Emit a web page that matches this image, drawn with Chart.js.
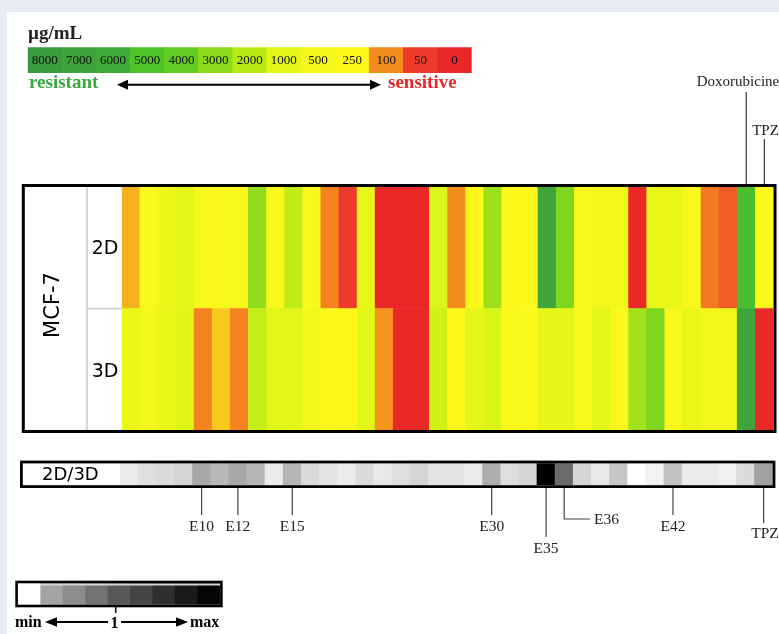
<!DOCTYPE html>
<html>
<head>
<meta charset="utf-8">
<script src="https://cdn.jsdelivr.net/npm/chart.js@4.4.1/dist/chart.umd.min.js"></script>
<style>
    html, body { margin: 0; padding: 0; background: #e8ecf6; }
    #page { position: relative; width: 779px; height: 634px; overflow: hidden; }
    #panel { position: absolute; left: 7px; top: 12px; right: 0; bottom: 0; background: #fff; }
    canvas { position: absolute; left: 0; top: 0; }
</style>
</head>
<body>
<div id="page">
    <div id="panel"></div>
    <canvas id="legendChart" width="779" height="634"></canvas>
    <canvas id="heatChart" width="779" height="634"></canvas>
    <canvas id="ratioChart" width="779" height="634"></canvas>
    <canvas id="grayChart" width="779" height="634"></canvas>
</div>
<script>
// compounds, left to right
const compounds = ['E6', 'E7', 'E8', 'E9', 'E10', 'E11', 'E12', 'E13', 'E14', 'E15',
    'E16', 'E17', 'E18', 'E20', 'E21', 'E22', 'E24', 'E25', 'E27', 'E28',
    'E30', 'E31', 'E33', 'E35', 'E36', 'E37', 'E38', 'E39', 'E40', 'E41',
    'E42', 'E43', 'E44', 'E45', 'Doxorubicine', 'TPZ'];

// IC50 in µg/mL, MCF-7 monolayer (2D) and spheroids (3D)
const ic50_2D = [150, 350, 650, 1000, 350, 350, 350, 2850, 350, 1800,
    350, 94, 50, 800, 5, 5, 5, 1150, 100, 280,
    2600, 260, 260, 6700, 3300, 380, 480, 480, 5, 800,
    800, 300, 88, 70, 5200, 280];
const ic50_3D = [800, 500, 820, 1050, 94, 185, 95, 1700, 1000, 1000,
    600, 280, 280, 1000, 110, 5, 5, 1400, 280, 980,
    1200, 320, 280, 900, 900, 350, 1000, 320, 2500, 3300,
    350, 800, 560, 560, 6700, 5];

// 2D/3D ratio, 0 = min (white) .. 1 = max (black)
const ratio2D3D = [0.08, 0.12, 0.14, 0.17, 0.34, 0.28, 0.34, 0.29, 0.08, 0.29,
    0.15, 0.11, 0.08, 0.14, 0.09, 0.13, 0.17, 0.11, 0.11, 0.08,
    0.32, 0.13, 0.16, 1.0, 0.58, 0.16, 0.09, 0.22, 0.0, 0.05,
    0.24, 0.08, 0.08, 0.06, 0.14, 0.37];

// labelled compounds
const topMarked = ['Doxorubicine', 'TPZ'];
const ratioMarked = ['E10', 'E12', 'E15', 'E30', 'E35', 'E36', 'E42', 'TPZ'];

// colour key (µg/mL)
const keyLabels = ['8000', '7000', '6000', '5000', '4000', '3000', '2000', '1000', '500', '250', '100', '50', '0'];
const keyValues = [8000, 7000, 6000, 5000, 4000, 3000, 2000, 1000, 500, 250, 100, 50, 0];
const keyColors = ['#389b3e', '#3ea33c', '#40aa38', '#4ec32a', '#62cc24', '#8cda1c', '#b7ea15',
    '#e2f617', '#f3f71a', '#fcf81a', '#f58c1e', '#ee3a2a', '#eb2628'];

// ratio key steps
const grayKey = [0, 0.36, 0.45, 0.55, 0.65, 0.73, 0.82, 0.9, 0.98];

const W = 779, H = 634;
const SERIF = '"Liberation Serif", "Times New Roman", serif';
const SANS = '"DejaVu Sans", sans-serif';

const hexRgb = function(h) {
    return [parseInt(h.substr(1, 2), 16), parseInt(h.substr(3, 2), 16), parseInt(h.substr(5, 2), 16)];
};

// value -> colour, linear between key stops
const colorFor = function(v) {
    for (var i = keyValues.length - 1; i > 0; i--) {
        var lo = keyValues[i], hi = keyValues[i - 1];
        if (v <= hi || i === 1) {
            var f = Math.max(0, Math.min(1, (v - lo) / (hi - lo)));
            var a = hexRgb(keyColors[i]), b = hexRgb(keyColors[i - 1]);
            var c = a.map(function(x, k) { return Math.round(x + (b[k] - x) * f); });
            return 'rgb(' + c.join(',') + ')';
        }
    }
    return keyColors[0];
};

const grayFor = function(r) {
    var g = Math.round(255 * (1 - r));
    return 'rgb(' + g + ',' + g + ',' + g + ')';
};

const ones = function(arr) { return arr.map(function() { return 1; }); };

const cellOptions = function(x1, y1, x2, y2, rows) {
    return {
        responsive: false,
        animation: false,
        devicePixelRatio: 1,
        events: [],
        layout: { padding: { left: x1, top: y1, right: W - x2, bottom: H - y2 } },
        plugins: { legend: { display: false }, tooltip: { enabled: false } },
        scales: {
            x: { display: false, stacked: true },
            y: { display: false, stacked: true, min: 0, max: rows }
        }
    };
};

const cellSet = function(label, n, colors) {
    return {
        label: label,
        data: n,
        backgroundColor: colors,
        borderWidth: 0,
        barPercentage: 1,
        categoryPercentage: 1
    };
};

const arrowHead = function(ctx, x, y, dir, len, half) {
    ctx.beginPath();
    ctx.moveTo(x, y);
    ctx.lineTo(x - dir * len, y - half);
    ctx.lineTo(x - dir * len, y + half);
    ctx.closePath();
    ctx.fill();
};

const line = function(ctx, pts) {
    ctx.beginPath();
    ctx.moveTo(pts[0][0], pts[0][1]);
    for (var i = 1; i < pts.length; i++) ctx.lineTo(pts[i][0], pts[i][1]);
    ctx.stroke();
};

// ---- colour key ----
new Chart(document.getElementById('legendChart'), {
    type: 'bar',
    data: { labels: keyLabels, datasets: [cellSet('key', ones(keyLabels), keyColors)] },
    options: cellOptions(27.7, 47.3, 471.7, 73, 1),
    plugins: [{
        id: 'keyText',
        afterDraw: function(chart) {
            const ctx = chart.ctx, xs = chart.scales.x;
            ctx.save();
            ctx.fillStyle = '#111';
            ctx.font = '13px ' + SERIF;
            ctx.textAlign = 'center';
            ctx.textBaseline = 'middle';
            keyLabels.forEach(function(t, i) {
                ctx.fillText(t, xs.getPixelForValue(i), 60.5);
            });
            ctx.textAlign = 'left';
            ctx.textBaseline = 'alphabetic';
            ctx.font = 'bold 19px ' + SERIF;
            ctx.fillStyle = '#222';
            ctx.fillText('µg/mL', 28, 39);
            ctx.fillStyle = '#3ca641';
            ctx.fillText('resistant', 29, 88);
            ctx.fillStyle = '#e8262a';
            ctx.fillText('sensitive', 388, 88);
            ctx.strokeStyle = '#000';
            ctx.fillStyle = '#000';
            ctx.lineWidth = 2;
            line(ctx, [[124, 84.7], [373, 84.7]]);
            arrowHead(ctx, 117, 84.7, -1, 11, 5);
            arrowHead(ctx, 381, 84.7, 1, 11, 5);
            ctx.restore();
        }
    }]
});

// ---- heatmap ----
new Chart(document.getElementById('heatChart'), {
    type: 'bar',
    data: {
        labels: compounds,
        datasets: [
            cellSet('3D', ones(compounds), ic50_3D.map(colorFor)),
            cellSet('2D', ones(compounds), ic50_2D.map(colorFor))
        ]
    },
    options: cellOptions(121.7, 187, 773.4, 430, 2),
    plugins: [{
        id: 'heatFrame',
        afterDraw: function(chart) {
            const ctx = chart.ctx, xs = chart.scales.x, ys = chart.scales.y;
            ctx.save();
            // row label dividers
            ctx.strokeStyle = '#c9c9c9';
            ctx.lineWidth = 1.5;
            line(ctx, [[87, 187], [87, 430]]);
            line(ctx, [[87, ys.getPixelForValue(1)], [121.7, ys.getPixelForValue(1)]]);
            // frame
            ctx.strokeStyle = '#000';
            ctx.lineWidth = 3;
            ctx.strokeRect(23.3, 185.5, 751.7, 246);
            // labels
            ctx.fillStyle = '#000';
            ctx.font = '19px ' + SANS;
            ctx.textAlign = 'center';
            ctx.textBaseline = 'middle';
            ctx.fillText('2D', 105, ys.getPixelForValue(1.5) + 1.5);
            ctx.fillText('3D', 105, ys.getPixelForValue(0.5) + 2.5);
            ctx.font = '21px ' + SANS;
            ctx.translate(53.5, 305);
            ctx.rotate(-Math.PI / 2);
            ctx.fillText('MCF-7', 0, 0);
            ctx.restore();

            // top leader lines
            ctx.save();
            ctx.strokeStyle = '#333';
            ctx.lineWidth = 1.2;
            ctx.fillStyle = '#222';
            ctx.font = '15px ' + SERIF;
            ctx.textAlign = 'center';
            const tops = { 'Doxorubicine': [92, 86, 738], 'TPZ': [139, 135, 765.5] };
            topMarked.forEach(function(name) {
                const px = xs.getPixelForValue(compounds.indexOf(name));
                const t = tops[name];
                line(ctx, [[px, t[0]], [px, 184]]);
                ctx.fillText(name, t[2], t[1]);
            });
            ctx.restore();
        }
    }]
});

// ---- 2D/3D ratio row ----
new Chart(document.getElementById('ratioChart'), {
    type: 'bar',
    data: { labels: compounds, datasets: [cellSet('2D/3D', ones(compounds), ratio2D3D.map(grayFor))] },
    options: cellOptions(120, 463.3, 772.7, 485, 1),
    plugins: [{
        id: 'ratioFrame',
        afterDraw: function(chart) {
            const ctx = chart.ctx, xs = chart.scales.x;
            ctx.save();
            ctx.strokeStyle = '#000';
            ctx.lineWidth = 2.8;
            ctx.strokeRect(21.4, 462, 752.6, 24.6);
            ctx.fillStyle = '#000';
            ctx.font = '18px ' + SANS;
            ctx.textAlign = 'left';
            ctx.textBaseline = 'middle';
            ctx.fillText('2D/3D', 42, 475);

            ctx.strokeStyle = '#444';
            ctx.lineWidth = 1.2;
            ctx.fillStyle = '#222';
            ctx.font = '15.5px ' + SERIF;
            ctx.textBaseline = 'alphabetic';
            ratioMarked.forEach(function(name) {
                const px = xs.getPixelForValue(compounds.indexOf(name));
                ctx.textAlign = 'center';
                if (name === 'E35') {
                    line(ctx, [[px, 488], [px, 537]]);
                    ctx.fillText(name, px, 553);
                } else if (name === 'E36') {
                    line(ctx, [[px, 488], [px, 519], [590, 519]]);
                    ctx.textAlign = 'left';
                    ctx.fillText(name, 594, 524);
                } else if (name === 'TPZ') {
                    line(ctx, [[px, 488], [px, 523]]);
                    ctx.fillText(name, 765, 538);
                } else {
                    line(ctx, [[px, 488], [px, 515]]);
                    ctx.fillText(name, px, 531);
                }
            });
            ctx.restore();
        }
    }]
});

// ---- ratio key ----
new Chart(document.getElementById('grayChart'), {
    type: 'bar',
    data: { labels: grayKey.map(String), datasets: [cellSet('ratio key', ones(grayKey), grayKey.map(grayFor))] },
    options: cellOptions(18.3, 583.3, 220, 604.7, 1),
    plugins: [{
        id: 'grayText',
        afterDraw: function(chart) {
            const ctx = chart.ctx;
            ctx.save();
            ctx.strokeStyle = '#d4d4d4';
            ctx.lineWidth = 2;
            line(ctx, [[40, 584.5], [220, 584.5]]);
            ctx.strokeStyle = '#000';
            ctx.lineWidth = 2.6;
            ctx.strokeRect(16.6, 582, 204.8, 24);
            ctx.lineWidth = 1.5;
            line(ctx, [[115.7, 607], [115.7, 613]]);
            ctx.lineWidth = 2;
            line(ctx, [[52, 622], [108, 622]]);
            line(ctx, [[121, 622], [180, 622]]);
            ctx.fillStyle = '#000';
            arrowHead(ctx, 45, 622, -1, 12, 4.8);
            arrowHead(ctx, 188, 622, 1, 12, 4.8);
            ctx.font = 'bold 16px ' + SERIF;
            ctx.textBaseline = 'alphabetic';
            ctx.textAlign = 'left';
            ctx.fillText('min', 15, 627);
            ctx.fillText('max', 190, 627);
            ctx.textAlign = 'center';
            ctx.fillText('1', 114.5, 628);
            ctx.restore();
        }
    }]
});
</script>
</body>
</html>
